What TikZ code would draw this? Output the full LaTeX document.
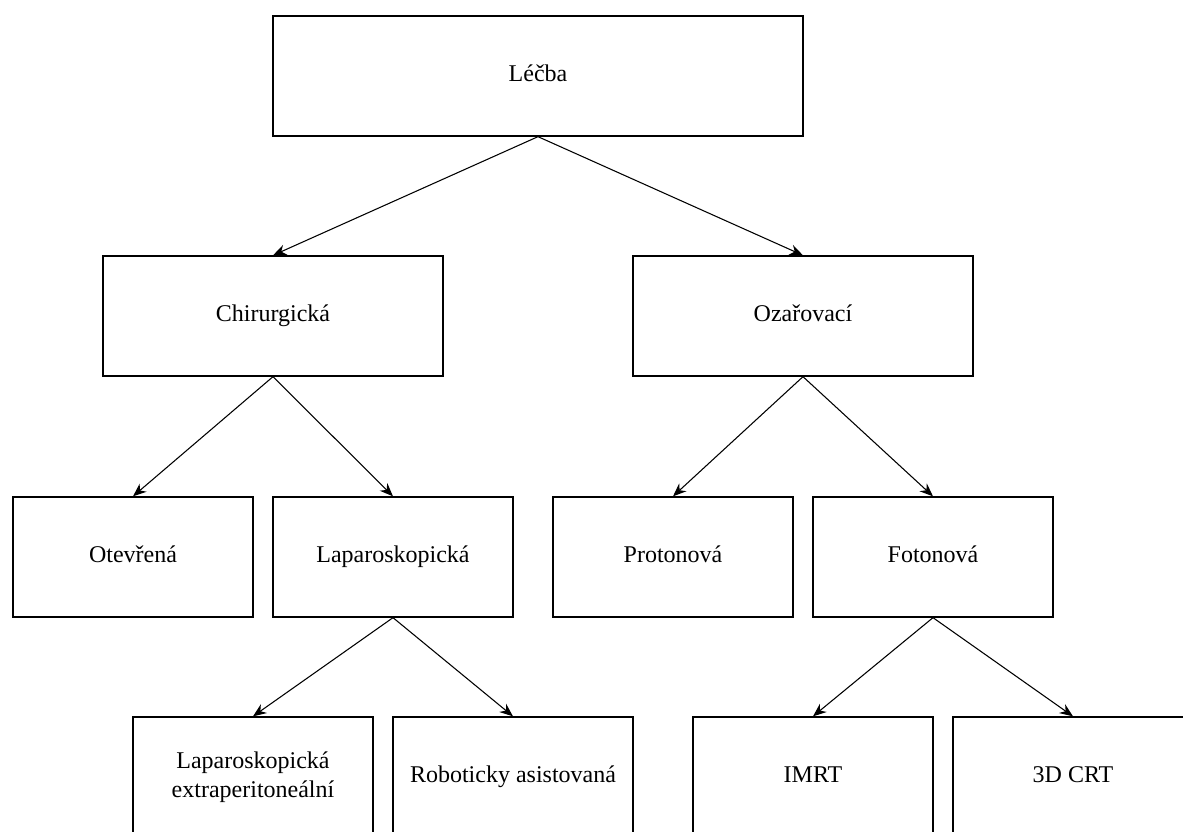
\documentclass[tikz,border=0pt]{standalone}
\usepackage{fontspec}
\setmainfont{Liberation Serif}
\usepackage{tikz}
\usetikzlibrary{arrows,shapes,positioning}
\usetikzlibrary{arrows.meta}

\begin{document}
\begin{tikzpicture}[x=0.75pt,y=0.75pt,yscale=-1,xscale=1,
  box/.style={draw, line width=1pt, minimum width=180pt, minimum height=90pt, inner sep=0.75pt, align=center, font=\fontsize{18}{21.5}\selectfont},
  oneline/.style={text height=12.5pt, text depth=4pt},
  link/.style={-{Stealth[length=10pt,width=8pt]}, line width=0.8pt}]
%set diagram left start at 0, and has height of 832
\useasboundingbox (0,0) rectangle (1183,832);
\clip (0,0) rectangle (1183,832);

% Text Node
\node [box, oneline, minimum width=397.5pt] (lecba) at (538,76) {Léčba};
% Text Node
\node [box, oneline, minimum width=255pt] (chir) at (273,316) {Chirurgická};
% Text Node
\node [box, oneline, minimum width=255pt] (ozar) at (803,316) {Ozařovací};
% Text Node
\node [box, oneline] (otevr) at (133,557) {Otevřená};
% Text Node
\node [box, oneline] (lapar) at (393,557) {Laparoskopická};
% Text Node
\node [box, oneline] (proton) at (673,557) {Protonová};
% Text Node
\node [box, oneline] (foton) at (933,557) {Fotonová};
% Text Node
\node [box] (extra) at (253,777) {Laparoskopická\\extraperitoneální};
% Text Node
\node [box, oneline] (robot) at (513,777) {Roboticky asistovaná};
% Text Node
\node [box, oneline] (imrt) at (813,777) {IMRT};
% Text Node
\node [box, oneline] (crt) at (1073,777) {3D CRT};

%Straight Lines
\draw [link] (lecba.south) -- (chir.north);
%Straight Lines
\draw [link] (lecba.south) -- (ozar.north);
%Straight Lines
\draw [link] (chir.south) -- (otevr.north);
%Straight Lines
\draw [link] (chir.south) -- (lapar.north);
%Straight Lines
\draw [link] (ozar.south) -- (proton.north);
%Straight Lines
\draw [link] (ozar.south) -- (foton.north);
%Straight Lines
\draw [link] (lapar.south) -- (extra.north);
%Straight Lines
\draw [link] (lapar.south) -- (robot.north);
%Straight Lines
\draw [link] (foton.south) -- (imrt.north);
%Straight Lines
\draw [link] (foton.south) -- (crt.north);

\end{tikzpicture}
\end{document}
